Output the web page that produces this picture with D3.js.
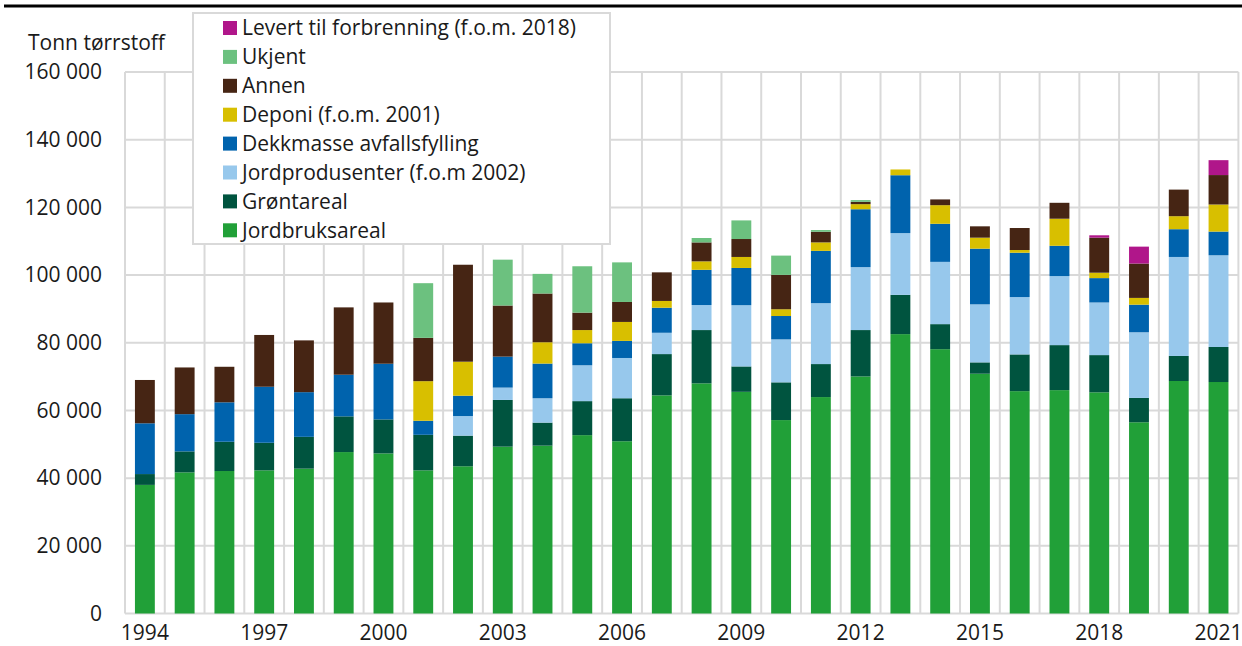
<!DOCTYPE html>
<html lang="no">
<head>
<meta charset="utf-8">
<script src="https://cdn.jsdelivr.net/npm/d3@7"></script>
<style>
  html, body { margin: 0; padding: 0; background: #fff; }
  svg { display: block; font-family: 'Open Sans', 'Noto Sans', sans-serif; }
  .tick-label { font-size: 21px; fill: #1a1a1a; }
  .legend-label { font-size: 21px; fill: #1a1a1a; }
</style>
</head>
<body>
<svg id="chart" width="1242" height="646"></svg>
<script>
const years = d3.range(1994, 2022);
const yTicks = [0, 20000, 40000, 60000, 80000, 100000, 120000, 140000, 160000];
const xTickYears = [1994, 1997, 2000, 2003, 2006, 2009, 2012, 2015, 2018, 2021];

const jordbruksareal = [38000, 41700, 42100, 42300, 42800, 47700, 47300, 42300, 43500, 49300, 49600, 52700, 50900, 64450, 68000, 65500, 57150, 63950, 70050, 82550, 78100, 70850, 65700, 66000, 65350, 56500, 68700, 68400];
const grontareal = [3200, 6200, 8650, 8150, 9400, 10550, 10050, 10500, 9050, 13800, 6800, 10050, 12700, 12200, 15750, 7500, 11150, 9750, 13700, 11600, 7400, 3350, 10850, 13300, 11000, 7200, 7400, 10350];
const jordprodusenter = [0, 0, 0, 0, 0, 0, 0, 0, 5800, 3650, 7200, 10600, 11900, 6300, 7400, 18100, 12700, 18000, 18600, 18250, 18400, 17150, 16950, 20400, 15550, 19400, 29250, 27100];
const dekkmasse = [15000, 11000, 11650, 16550, 13200, 12300, 16450, 4150, 6000, 9150, 10250, 6500, 5050, 7400, 10400, 11000, 6900, 15450, 17100, 17100, 11250, 16450, 13100, 8950, 7200, 8150, 8200, 7000];
const deponi = [0, 0, 0, 0, 0, 0, 0, 11700, 10050, 0, 6300, 3900, 5600, 2000, 2500, 3250, 2000, 2500, 1500, 1700, 5500, 3250, 800, 8000, 1600, 2000, 3850, 8000];
const annen = [12800, 13800, 10500, 15300, 15300, 19900, 18100, 12800, 28650, 15100, 14400, 5150, 5900, 8450, 5600, 5300, 10150, 3150, 700, 0, 1700, 3350, 6500, 4700, 10350, 10150, 7850, 8700];
const ukjent = [0, 0, 0, 0, 0, 0, 0, 16150, 0, 13550, 5800, 13700, 11700, 0, 1300, 5500, 5700, 500, 500, 0, 0, 0, 0, 0, 0, 0, 0, 0];
const levert = [0, 0, 0, 0, 0, 0, 0, 0, 0, 0, 0, 0, 0, 0, 0, 0, 0, 0, 0, 0, 0, 0, 0, 0, 700, 5000, 0, 4400];

// stack order, bottom to top
const series = [
  { key: 'jordbruk', name: 'Jordbruksareal', color: '#21a038', values: jordbruksareal },
  { key: 'gront', name: 'Grøntareal', color: '#00543f', values: grontareal },
  { key: 'jordprod', name: 'Jordprodusenter (f.o.m 2002)', color: '#97c8ec', values: jordprodusenter },
  { key: 'dekk', name: 'Dekkmasse avfallsfylling', color: '#0063ad', values: dekkmasse },
  { key: 'deponi', name: 'Deponi (f.o.m. 2001)', color: '#d8bf00', values: deponi },
  { key: 'annen', name: 'Annen', color: '#462514', values: annen },
  { key: 'ukjent', name: 'Ukjent', color: '#6cc17f', values: ukjent },
  { key: 'levert', name: 'Levert til forbrenning (f.o.m. 2018)', color: '#b0168a', values: levert }
];

const width = 1242;
const height = 646;
const margin = { top: 72, right: 4, bottom: 32.5, left: 125 };
const gridColor = '#d9d9d9';

const table = years.map((year, i) => {
  const row = { year };
  series.forEach((s) => { row[s.key] = s.values[i]; });
  return row;
});

const svg = d3.select('#chart');

const x = d3.scaleBand()
  .domain(years)
  .range([margin.left, 1238.4])
  .paddingInner(0.5)
  .paddingOuter(0.25);

const y = d3.scaleLinear()
  .domain([0, 160000])
  .range([height - margin.bottom, margin.top]);

const locale = d3.formatLocale({ decimal: ',', thousands: '\u00a0', grouping: [3], currency: ['', ' kr'] });
const fmt = locale.format(',');

// top rule
svg.append('line')
  .attr('x1', 4).attr('x2', width)
  .attr('y1', 6).attr('y2', 6)
  .attr('stroke', '#000').attr('stroke-width', 3);

// horizontal grid
svg.append('g')
  .selectAll('line')
  .data(yTicks)
  .join('line')
  .attr('x1', margin.left).attr('x2', x.range()[1])
  .attr('y1', (d) => y(d)).attr('y2', (d) => y(d))
  .attr('stroke', gridColor).attr('stroke-width', 2);

// vertical grid at category boundaries
const step = x.step();
const boundaryX = years
  .map((yr) => x(yr) + x.bandwidth() / 2 - step / 2)
  .concat([x(years[years.length - 1]) + x.bandwidth() / 2 + step / 2]);
svg.append('g')
  .selectAll('line')
  .data(boundaryX)
  .join('line')
  .attr('x1', (d) => d).attr('x2', (d) => d)
  .attr('y1', y(160000)).attr('y2', y(0))
  .attr('stroke', gridColor).attr('stroke-width', 2);

// stacked bars
const stack = d3.stack().keys(series.map((s) => s.key));
const stacked = stack(table);

svg.append('g')
  .selectAll('g')
  .data(stacked)
  .join('g')
  .attr('fill', (d, i) => series[i].color)
  .selectAll('rect')
  .data((d) => d)
  .join('rect')
  .attr('x', (d) => x(d.data.year))
  .attr('width', x.bandwidth())
  .attr('y', (d) => y(d[1]))
  .attr('height', (d) => Math.max(0, y(d[0]) - y(d[1])));

// y tick labels
svg.append('g')
  .selectAll('text')
  .data(yTicks)
  .join('text')
  .attr('class', 'tick-label')
  .attr('x', 102)
  .attr('y', (d) => y(d))
  .attr('dy', '0.35em')
  .attr('text-anchor', 'end')
  .text((d) => fmt(d));

// x tick labels
svg.append('g')
  .selectAll('text')
  .data(xTickYears)
  .join('text')
  .attr('class', 'tick-label')
  .attr('x', (d) => x(d) + x.bandwidth() / 2)
  .attr('y', 640)
  .attr('text-anchor', 'middle')
  .text((d) => d);

// unit label
svg.append('text')
  .attr('class', 'tick-label')
  .attr('x', 28)
  .attr('y', 50)
  .text('Tonn tørrstoff');

// legend
const legendItems = series.slice().reverse();
const legend = svg.append('g');
legend.append('rect')
  .attr('x', 193).attr('y', 13)
  .attr('width', 417).attr('height', 231)
  .attr('fill', '#fff')
  .attr('stroke', gridColor).attr('stroke-width', 2);

const rows = legend.selectAll('g')
  .data(legendItems)
  .join('g')
  .attr('transform', (d, i) => `translate(0, ${28 + i * 28.9})`);

rows.append('rect')
  .attr('x', 223).attr('y', -7)
  .attr('width', 14).attr('height', 14)
  .attr('fill', (d) => d.color);

rows.append('text')
  .attr('class', 'legend-label')
  .attr('x', 242)
  .attr('dy', '0.35em')
  .text((d) => d.name);
</script>
</body>
</html>
